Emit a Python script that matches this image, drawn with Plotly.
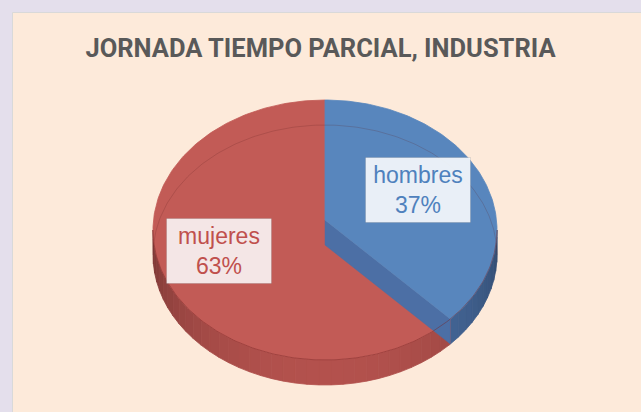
import numpy as np
import plotly.graph_objects as go

# ---- data ----
categories = ["hombres", "mujeres"]
values = [37, 63]
title_text = "JORNADA TIEMPO PARCIAL, INDUSTRIA"

# ---- style ----
top_colors = ["#5886BD", "#C25B56"]
text_colors = ["#4F81BD", "#C0504D"]
side_rgb = [(72, 108, 160), (176, 80, 76)]
wall_colors = ["#4C6FA5", "#9E4340"]
label_bg = ["rgba(244,247,251,0.93)", "rgba(248,241,241,0.93)"]

W, H = 641, 412
cx, cy, a, b, depth = 325, 230, 172, 130, 25
vx, vy = 325, 220


def pt(t_deg, dy=0.0):
    t = np.radians(t_deg)
    return cx + a * np.cos(t), cy - b * np.sin(t) + dy


def arc(t0, t1, dy=0.0, n=None):
    if n is None:
        n = max(4, int(abs(t1 - t0) / 1.0) + 1)
    ts = np.linspace(t0, t1, n)
    xs, ys = pt(ts, dy)
    return list(xs), list(ys)


total = float(sum(values))
spans = []
cum = 0.0
for v in values:
    t0 = 90 - 360 * cum / total
    t1 = t0 - 360 * v / total
    spans.append((t0, t1))
    cum += v

fig = go.Figure()


def poly(xs, ys, color, lw=0.6, lcolor=None):
    fig.add_trace(go.Scatter(
        x=xs + [xs[0]], y=ys + [ys[0]], mode="lines", fill="toself",
        fillcolor=color, line=dict(color=lcolor or color, width=lw),
        hoverinfo="skip", showlegend=False))


# sides (front visible part)
for i, (t0, t1) in enumerate(spans):
    lo, hi = max(t1, -180), min(t0, 0)
    if lo >= hi:
        continue
    edges = np.arange(lo, hi, 4.0).tolist() + [hi]
    r0, g0, b0 = side_rgb[i]
    for s0, s1 in zip(edges[:-1], edges[1:]):
        mid = np.radians((s0 + s1) / 2)
        f = 0.70 + 0.32 * abs(np.sin(mid))
        col = "rgb(%d,%d,%d)" % (min(255, r0 * f), min(255, g0 * f), min(255, b0 * f))
        xa, ya = arc(s0, s1, 0, 4)
        xb, yb = arc(s1, s0, depth, 4)
        poly(xa + xb, ya + yb, col, 0.8)

# top faces: red first, then blue radial wall, then blue top
for i in [1, 0]:
    t0, t1 = spans[i]
    if i == 0:
        ex, ey = pt(t1)
        poly([vx, ex, ex, vx], [vy, ey, ey + depth, vy + depth], wall_colors[0], 0.5)
    xs, ys = arc(t0, t1)
    poly([vx] + xs, [vy] + ys, top_colors[i], 0.8)

# faint rim lines
xr, yr = arc(0, 180, depth)
fig.add_trace(go.Scatter(x=xr, y=yr, mode="lines",
                         line=dict(color="rgba(90,30,30,0.20)", width=1),
                         hoverinfo="skip", showlegend=False))
xr, yr = arc(-180, 0, 0)
fig.add_trace(go.Scatter(x=xr, y=yr, mode="lines",
                         line=dict(color="rgba(120,35,35,0.45)", width=1),
                         hoverinfo="skip", showlegend=False))

# labels
label_pos = [(418, 190), (219, 251)]
for i, name in enumerate(categories):
    pct = round(100 * values[i] / total)
    fig.add_annotation(
        x=label_pos[i][0], y=label_pos[i][1], xref="x", yref="y",
        text=f"{name}<br>{pct}%", showarrow=False,
        font=dict(family="Liberation Sans, Arial", size=23, color=text_colors[i]),
        bgcolor=label_bg[i], bordercolor="rgba(0,0,0,0.10)", borderwidth=1,
        width=100, height=60, borderpad=2, align="center")

fig.update_layout(
    width=W, height=H,
    margin=dict(l=0, r=0, t=0, b=0),
    paper_bgcolor="#E4DFEC", plot_bgcolor="#E4DFEC",
    xaxis=dict(range=[0, W], visible=False, fixedrange=True),
    yaxis=dict(range=[H, 0], visible=False, fixedrange=True),
    shapes=[dict(type="rect", xref="x", yref="y", x0=12.5, y0=12.5, x1=W + 20, y1=H + 20,
                 fillcolor="#FDEADA", line=dict(color="#D9D9D9", width=1), layer="below")],
    title=dict(text="<b>" + title_text + "</b>", x=0.5, xanchor="center",
               y=1 - 48 / H, yanchor="middle",
               font=dict(family="Roboto", size=25.5, color="#595959")),
    showlegend=False,
)

fig.write_html("out.html", config={"displayModeBar": False},
               post_script="document.body.style.margin='0';document.body.style.background='#E4DFEC';")
